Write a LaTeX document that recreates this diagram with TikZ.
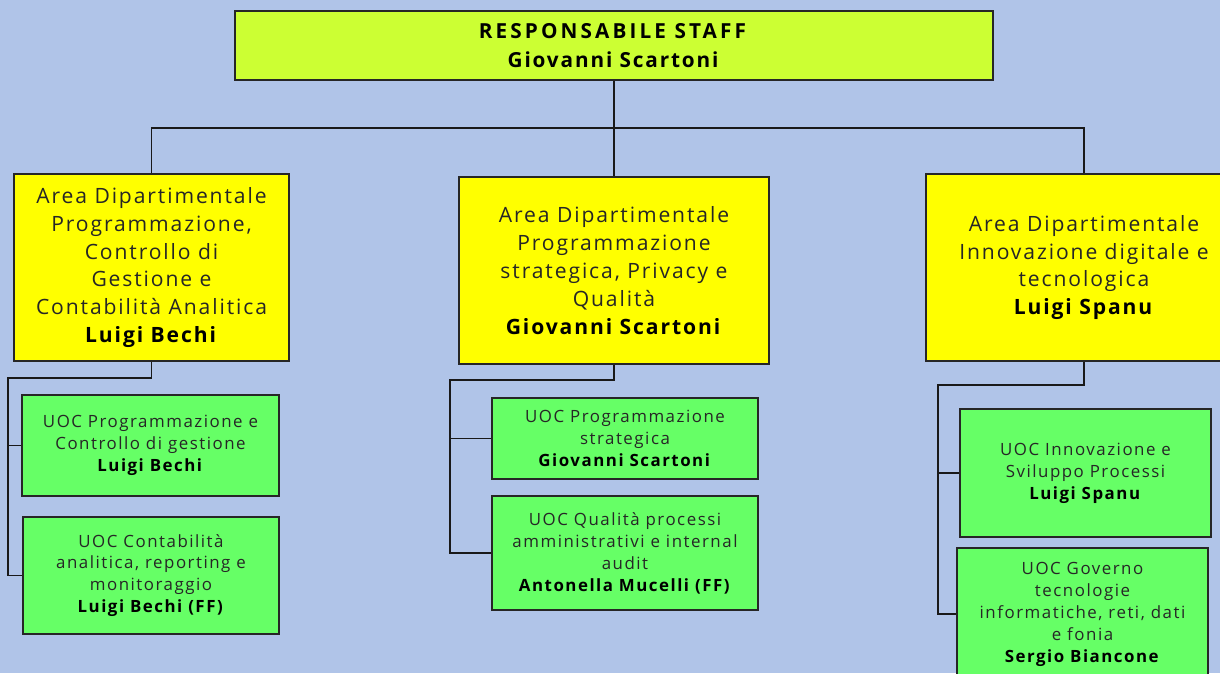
\documentclass[tikz,border=0pt]{standalone}
\usepackage{fontspec}
\setmainfont{Open Sans}[LetterSpace=9]
\newfontfamily\headfont{Open Sans}[LetterSpace=9]
\usetikzlibrary{positioning}
\definecolor{bgblue}{RGB}{176,196,232}
\definecolor{headfill}{RGB}{204,255,51}
\definecolor{areafill}{RGB}{255,255,0}
\definecolor{uocfill}{RGB}{102,255,102}
\tikzstyle{head} = [rectangle, draw=black!85, line width=1.1pt, fill=headfill, minimum width=15.16cm, minimum height=1.38cm, inner sep=0pt, align=center, font=\headfont\fontsize{11.8}{16.4}\selectfont]
\tikzstyle{area} = [rectangle, draw=black!85, line width=1.1pt, fill=areafill, minimum height=3.74cm, inner sep=0pt, align=center, text=black!85, font=\fontsize{12}{15.9}\selectfont]
\tikzstyle{uoc} = [rectangle, draw=black!85, line width=1.1pt, fill=uocfill, inner sep=0pt, align=center, text=black!85, font=\fontsize{9.6}{12.5}\selectfont]
\tikzstyle{conn} = [line width=1.1pt, draw=black!90]

\begin{document}
\begin{tikzpicture}[x=0.02cm, y=-0.02cm]
        \fill[bgblue] (0,0) rectangle (1220,673);
        \useasboundingbox (0,0) rectangle (1220,673);
        \clip (0,0) rectangle (1220,673);

        % responsabile
        \node (top) [head] at (614,45.5) {{\addfontfeature{LetterSpace=15}\textbf{RESPONSABILE STAFF}}\\\textbf{Giovanni Scartoni}};

        % aree dipartimentali
        \node (yA) [area, minimum width=5.5cm] at (151.5,267.5) {Area Dipartimentale\\Programmazione,\\Controllo di\\Gestione e\\Contabilità Analitica\\\textcolor{black}{\textbf{Luigi Bechi}}};
        \node (yB) [area, minimum width=6.2cm] at (614,270.5) {Area Dipartimentale\\Programmazione\\strategica, Privacy e\\Qualità\\\textcolor{black}{\textbf{Giovanni Scartoni}}};
        \node (yC) [area, minimum width=6.32cm] at (1084,267.5) {Area Dipartimentale\\Innovazione digitale e\\tecnologica\\\textcolor{black}{\textbf{Luigi Spanu}}};

        % UOC
        \node (gA1) [uoc, minimum width=5.14cm, minimum height=2.02cm] at (150.5,445.5) {UOC Programmazione e\\Controllo di gestione\\\textcolor{black}{\textbf{Luigi Bechi}}};
        \node (gA2) [uoc, minimum width=5.12cm, minimum height=2.34cm] at (151,575.5) {UOC Contabilità\\analitica, reporting e\\monitoraggio\\\textcolor{black}{\textbf{Luigi Bechi (FF)}}};
        \node (gB1) [uoc, minimum width=5.32cm, minimum height=1.62cm] at (625,438.5) {UOC Programmazione\\strategica\\\textcolor{black}{\textbf{Giovanni Scartoni}}};
        \node (gB2) [uoc, minimum width=5.32cm, minimum height=2.28cm] at (625,553) {UOC Qualità processi\\amministrativi e internal\\audit\\\textcolor{black}{\textbf{Antonella Mucelli (FF)}}};
        \node (gC1) [uoc, minimum width=5.02cm, minimum height=2.56cm] at (1085.5,473) {UOC Innovazione e\\Sviluppo Processi\\\textcolor{black}{\textbf{Luigi Spanu}}};
        \node (gC2) [uoc, minimum width=5.02cm, minimum height=2.64cm] at (1082.5,614) {UOC Governo\\tecnologie\\informatiche, reti, dati\\e fonia\\\textcolor{black}{\textbf{Sergio Biancone}}};

        % collegamenti
        \coordinate (bus) at (614,128);
        \coordinate (kA) at (8,378);
        \coordinate (kB) at (450,380);
        \coordinate (kC) at (938,385);
        \draw[conn] (top.south) -- (bus);
        \draw[conn] (yA.north) |- (bus) -| (yC.north);
        \draw[conn] (bus) -- (yB.north);
        \draw[conn] (yA.south) |- (kA) |- (gA2.west);
        \draw[conn] (kA) |- (gA1.west);
        \draw[conn] (yB.south) |- (kB) |- (gB2.west);
        \draw[conn] (kB) |- (gB1.west);
        \draw[conn] (yC.south) |- (kC) |- (gC2.west);
        \draw[conn] (kC) |- (gC1.west);
\end{tikzpicture}
\end{document}
